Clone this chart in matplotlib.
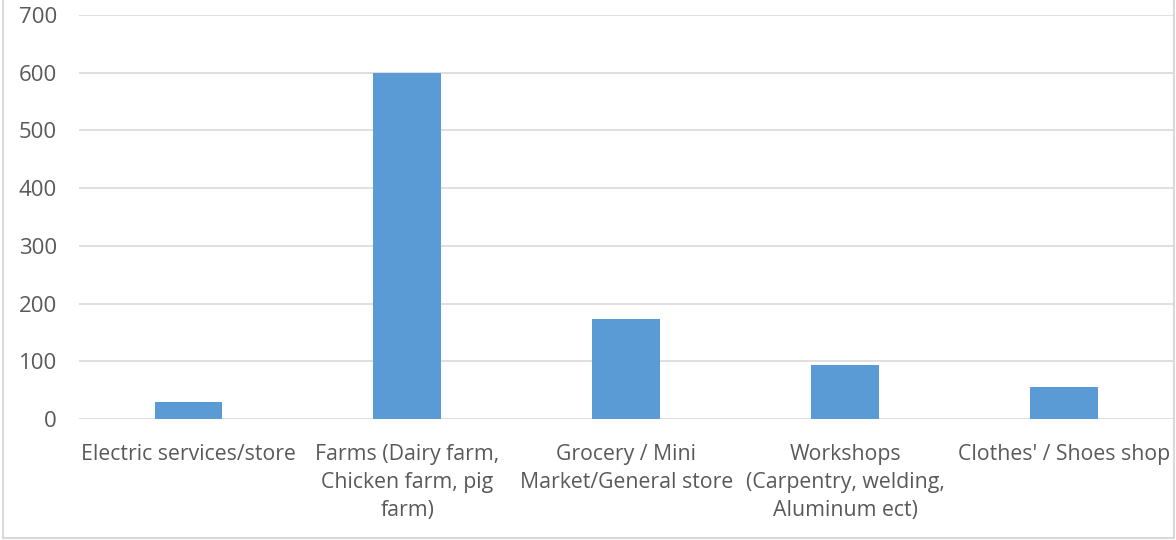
import matplotlib
matplotlib.use("Agg")
import matplotlib.pyplot as plt
from matplotlib.lines import Line2D

categories = [
    "Electric services/store",
    "Farms (Dairy farm,\nChicken farm, pig\nfarm)",
    "Grocery / Mini\nMarket/General store",
    "Workshops\n(Carpentry, welding,\nAluminum ect)",
    "Clothes' / Shoes shop",
]
values = [29, 600, 174, 93, 55]
yticks = [0, 100, 200, 300, 400, 500, 600, 700]

plt.rcParams['font.family'] = ['Open Sans', 'DejaVu Sans']
text_color = "#595959"

fig = plt.figure(figsize=(11.76, 5.4), dpi=100)
ax = fig.add_axes([79/1176, 1-419/540, (1173.5-79)/1176, (419-15)/540])

x = list(range(len(categories)))
ax.bar(x, values, width=0.31, color="#5b9bd5", zorder=3)
ax.set_xlim(-0.5, len(categories)-0.5)
ax.set_ylim(0, 700)
ax.set_yticks(yticks)
ax.set_yticklabels([str(v) for v in yticks])
ax.set_xticks(x)
ax.set_xticklabels(categories, linespacing=1.43)
ax.grid(axis='y', color="#d9d9d9", linewidth=1.2, zorder=0)
for s in ax.spines.values():
    s.set_visible(False)
ax.tick_params(axis='both', length=0, colors=text_color)
ax.tick_params(axis='y', pad=16, labelsize=16)
ax.tick_params(axis='x', pad=18, labelsize=15.3)

# outer chart border
border_kw = dict(color="#d9d9d9", linewidth=1.5, transform=fig.transFigure)
fig.add_artist(Line2D([3/1176, 3/1176], [2/540, 1], **border_kw))
fig.add_artist(Line2D([3/1176, 1174/1176], [2/540, 2/540], **border_kw))
fig.add_artist(Line2D([1174/1176, 1174/1176], [2/540, 1], **border_kw))

fig.savefig("out.png", dpi=100)
